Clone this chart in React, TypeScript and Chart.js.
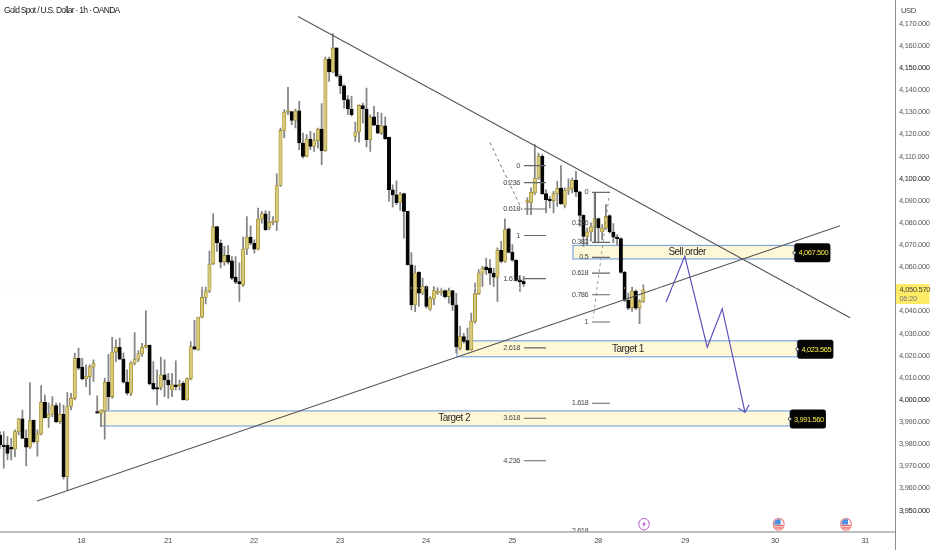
import React, { useEffect, useRef } from "react";
import { Chart, registerables } from "chart.js";

Chart.register(...registerables);

const opens = [3984.1,3979.6,3979.6,3978.6,3977.7,3985.7,3991.4,3982.6,3978.6,3990.9,
3981.1,3984.6,3998.9,3992.1,3993.5,3997.4,3990.2,3993.5,3965.3,3997,
4000.7,4018.8,4014.8,4009.5,4010.5,4014.8,3994.7,3994,3995,4008,
4001.5,4021.6,4023.7,4018.4,4008,4003,4016.6,4018.4,4020.8,4023.8,
4024.6,4007.5,4005.6,4005.6,4011.3,4009,4004.5,4006.8,4006.3,4007.5,
4000,4009.6,4024.1,4022.6,4037.4,4046.3,4049.2,4061.5,4078.3,4070.9,
4062.3,4065.3,4062.9,4055.5,4053.5,4052,4068.2,4073.6,4070.8,4068.1,
4081.7,4084.1,4077.9,4080.2,4080.5,4096.9,4121.8,4130,4130.3,4126.3,
4130.7,4116.1,4110.1,4117.9,4114.6,4117.2,4122.4,4112.6,4154.1,4148.2,
4159.1,4146.3,4142,4135.7,4131.5,4119.1,4121.1,4133,4131.5,4117.6,
4127.9,4124.2,4120.6,4123.9,4118.7,4095,4092.7,4089.4,4093.2,4085.2,
4061,4042.9,4057.7,4048.2,4051.2,4041,4045.5,4048.5,4048.5,4049.4,
4046.7,4049.4,4042.9,4023.3,4028.6,4026.8,4022.6,4035.5,4048,4057.3,
4060.1,4059.6,4057.3,4055.5,4067.6,4062.6,4077.3,4066.7,4063.1,4054.3,
4053.6,4089.3,4089.3,4093.5,4100.3,4110.1,4093.2,4090.8,4090.1,4093.2,
4095.7,4088,4094.7,4095.4,4099.3,4094,4083.4,4073.9,4075.9,4078.2,
4081.9,4075.9,4077.7,4083.3,4075.9,4073.6,4072.9,4057.6,4045,4041.5,
4049.1,4041.5,4044.5];

const highs = [3985.7,3985.7,3983.4,3982.6,3986.4,3991.7,3995.4,3986.4,4007.8,3990.9,
3986.4,4006.5,4002.2,3998.5,4001.5,3998.5,3998.5,3997.7,4003.3,4003,
4021.1,4023.4,4018.8,4015.8,4015.8,4018.1,4001.8,3995.5,4009.8,4020.6,
4028.3,4027.1,4027.9,4021.1,4013.6,4017.3,4030.4,4022.3,4025.6,4040.2,
4024.9,4017.3,4013.6,4019.3,4018.1,4012,4012,4017.6,4009,4008.3,
4009.8,4026.4,4035.9,4037.4,4051,4051,4067.4,4084.2,4078.3,4072.4,
4069.4,4069.8,4064.8,4064.8,4061.9,4073.6,4082.9,4078.7,4072.3,4086.7,
4085.2,4085.6,4085.2,4082.9,4102.2,4122.9,4131.2,4141.3,4130.4,4131.5,
4134.9,4120.6,4119.9,4121.4,4120.6,4122.9,4133.9,4155,4155,4165.6,
4159.1,4147,4142.5,4137.5,4137.2,4125.6,4133.4,4134.2,4141,4128.9,
4132.7,4130,4129.7,4127.9,4118.8,4097.2,4099,4093.8,4093.5,4085.2,
4066.6,4060.6,4058,4055,4051.5,4046.7,4051.2,4050.8,4050.5,4049.7,
4050.5,4049.4,4048.2,4033.4,4030.1,4032.4,4039.2,4052.8,4058.9,4060.4,
4064.1,4063.4,4059.6,4068.7,4071.7,4081.8,4077.7,4070.2,4063.4,4056.3,
4055.8,4091.3,4095.8,4115.4,4111.6,4110.9,4095,4092,4094.3,4098.8,
4105.9,4095.8,4099.9,4100.3,4103.3,4094.3,4083.7,4077.7,4080,4093.5,
4082.2,4079.2,4088.3,4083.7,4079.7,4074.7,4073.2,4058.1,4048.3,4051,
4049.8,4045.3,4052];

const lows = [3978.1,3969.1,3972.8,3972.8,3974.3,3984.1,3982.6,3970.1,3978.1,3980.4,
3974.6,3984.1,3991.7,3987.5,3992.4,3989.7,3989.4,3964.1,3958.9,3995.5,
4000,4013.6,4009,4006,4002.2,4008.3,3994,3987.9,3982.2,3995.5,
4000.7,4017.3,4018.1,4007.5,4002.2,4001.9,4015.8,4017.3,4019.6,4023.4,
4006.8,4004.5,3997.7,4004.5,4001.5,4000.7,4001.5,4004.5,4004.5,4000,
3999.7,4009,4022.6,4022.3,4037,4043.4,4048.5,4061.1,4067.1,4059.7,
4060.8,4061.5,4054.3,4052.5,4044.5,4051.3,4065.6,4070.1,4066.3,4067.8,
4079.9,4076.6,4076.9,4079.1,4076.6,4096.5,4118.4,4128.9,4124.4,4122.9,
4113.1,4109.3,4109.8,4113.1,4112.3,4113.8,4106.3,4112.3,4144,4147.8,
4146,4138.4,4131.9,4128.9,4128.2,4116.8,4116.4,4125.1,4114.3,4112.3,
4123.9,4120.3,4119.9,4117.6,4089.7,4087.1,4088.2,4085.6,4073.1,4061,
4040.7,4039.9,4042.2,4047.5,4041.4,4040.4,4042.9,4047.5,4047.2,4046,
4043.7,4040.4,4021.1,4022.6,4025.6,4022.3,4022.4,4034.7,4047.5,4051.3,
4056.6,4052.1,4051.3,4044.5,4061.9,4062.2,4066.4,4062.6,4053.6,4049,
4051.3,4083.7,4083.7,4092.8,4099.6,4092.8,4084.5,4086.8,4084.5,4087.5,
4088.3,4086.8,4092.8,4093.5,4092,4078.5,4069.4,4070.2,4071.7,4070.9,
4070.9,4072.4,4077,4075.4,4070.9,4070.2,4057.3,4044.5,4040.8,4040,
4040.8,4034.4,4044];

const closes = [3979.6,3978.9,3975.8,3977.7,3985.7,3991.4,3982.6,3978.6,3990.6,3981.1,
3984.6,3998.9,3992,3993.5,3997.4,3990.2,3993.5,3965.3,3997,4000.7,
4018.8,4014.3,4009.5,4010.5,4015,4016.6,3994,3995.5,4008,4001.5,
4021.6,4023.7,4018.4,4008,4003,4016.6,4018.4,4020.8,4023.8,4024.6,
4007.2,4005.1,4004.8,4011.3,4009,4006.8,4006.8,4006,4006.8,4000,
4009.6,4024.1,4022.9,4037.4,4046.3,4049.2,4061.4,4078.3,4071,4062.3,
4065.3,4062.3,4055,4053.2,4052.5,4068.2,4073.6,4070.8,4068.1,4081.7,
4084.1,4076.9,4080.3,4080.6,4096.9,4121.8,4130.1,4130.3,4126.3,4130.7,
4116.1,4110.1,4117.9,4114.6,4117.2,4122.4,4112.6,4154.1,4148.2,4159.1,
4146.3,4142,4135.7,4131.5,4128.9,4121.1,4133.1,4131.5,4117.6,4127.9,
4124.2,4120.6,4123.9,4118.1,4095,4092.7,4089.2,4093,4085.2,4061,
4042.9,4057.3,4048.2,4051.2,4042.2,4046,4049.4,4049,4049,4046.7,
4049.4,4042.9,4024.1,4028.6,4026.4,4022.6,4035.5,4048,4057.3,4059.6,
4058.9,4057.3,4055.5,4067.6,4062.6,4077,4066.7,4063.1,4054,4053.4,
4052.4,4090.1,4093.8,4100.3,4110.1,4093.2,4090.5,4090.1,4093.2,4095.7,
4088.7,4094.7,4095.8,4099.3,4094,4083.4,4073.9,4075.9,4078.2,4081.9,
4077.7,4077.7,4083,4075.9,4073.6,4072.9,4057.6,4045,4041.5,4049.1,
4041.5,4044.5,4049.8];

const dayLabels = ["18", "21", "22", "23", "24", "25", "28", "29", "30", "31"];
const dayIndex = [21.7, 44.9, 67.9, 90.9, 113.9, 136.9, 159.9, 183.2, 207.2, 231.3];
const priceTicks = [4170,4160,4150,4140,4130,4120,4110,4100,4090,4080,4070,4060,4040,4030,4020,4010,4000,3990,3980,3970,3960,3950];

const X_MAX = 239.3;
const Y_MIN = 3940.27;
const Y_MAX = 4176.92;
const lastPrice = 4050.57;
const countdown = "06:20";

const trendDown = [{ x: 79.7, y: 4173.3 }, { x: 227.3, y: 4037.1 }];
const trendUp = [{ x: 9.9, y: 3954.3 }, { x: 224.6, y: 4078.7 }];
const forecastPath = [
  { x: 178.1, y: 4044.2 }, { x: 183.1, y: 4065 }, { x: 189.1, y: 4023.8 },
  { x: 193.1, y: 4041.2 }, { x: 199.2, y: 3994.4 },
];
const forecastHead = [{ x: 197.4, y: 3996.2 }, { x: 199.2, y: 3994.4 }, { x: 200.3, y: 3997.8 }];
const fibDash1 = [{ x: 131, y: 4116.3 }, { x: 139.8, y: 4085.1 }];
const fibDash2 = [{ x: 162.8, y: 4091.4 }, { x: 158.6, y: 4037.1 }];
const fibStem2 = [{ x: 159.2, y: 4093.8 }, { x: 159.2, y: 4071.2 }];

const fib1Labels = ["0", "0.236", "0.618", "1", "1.618", "2.618", "3.618", "4.236"];
const fib1Prices = [4105.9, 4098.2, 4086.3, 4074.3, 4054.8, 4023.5, 3991.7, 3972.5];
const fib2Labels = ["0", "0.236", "0.382", "0.5", "0.618", "0.786", "1", "1.618", "2.618"];
const fib2Prices = [4093.8, 4079.9, 4071.2, 4064.4, 4057.3, 4047.5, 4035.2, 3998.5, 3940.7];
const fib1Span = [140.1, 146];
const fib2Span = [158.3, 163.1];
const fib1TextX = 139;
const fib2TextX = 157.3;

const zoneNames = ["Sell order", "Target 1", "Target 2"];
const zoneTops = [4069.8, 4026.7, 3995];
const zoneBottoms = [4063.7, 4019.5, 3988.2];
const zoneStarts = [153.2, 122.2, 27];
const zoneEnds = [212.4, 213.2, 211.2];
const zoneTextX = [183.7, 167.9, 121.4];
const tagTexts = ["4,067.500", "4,023.565", "3,991.560"];
const eventIndex = [172.2, 208.2, 226.2];
const eventKinds = ["bolt", "us", "us"];
const eventPrice = 3944;

const FONT = '"Liberation Sans", sans-serif';
const idx = opens.map((_, i) => i);
const isUp = (i: number) => closes[i] >= opens[i];

function segments(prices: number[], span: number[], skip: number[]) {
  const out: ({ x: number; y: number | null })[] = [];
  prices.forEach((p, i) => {
    if (skip.includes(i)) return;
    out.push({ x: span[0], y: p }, { x: span[1], y: p }, { x: span[1], y: null });
  });
  return out;
}

const lineSet = (data: any[], color: string, width: number, dash: number[] = []) => ({
  type: "line" as const,
  data,
  borderColor: color,
  borderWidth: width,
  borderDash: dash,
  pointRadius: 0,
  fill: false,
  tension: 0,
  spanGaps: false,
  order: 1,
});

const overlay = {
  id: "overlay",
  beforeDraw(chart: any) {
    chart.ctx.letterSpacing = "-0.3px";
  },
  beforeDatasetsDraw(chart: any) {
    const { ctx, scales } = chart;
    const { x, y } = scales;
    ctx.save();
    zoneNames.forEach((_, i) => {
      const l = x.getPixelForValue(zoneStarts[i]);
      const r = x.getPixelForValue(zoneEnds[i]);
      const t = y.getPixelForValue(zoneTops[i]);
      const b = y.getPixelForValue(zoneBottoms[i]);
      ctx.fillStyle = "#fff8d6";
      ctx.fillRect(l, t, r - l, b - t);
      ctx.strokeStyle = "#7fa4e0";
      ctx.lineWidth = 1.2;
      ctx.strokeRect(l, t, r - l, b - t);
    });
    ctx.restore();
  },
  afterDatasetsDraw(chart: any) {
    const { ctx, scales, chartArea } = chart;
    const { x, y } = scales;
    ctx.save();
    ctx.beginPath();
    ctx.rect(0, 0, chartArea.right, chartArea.bottom);
    ctx.clip();
    ctx.textBaseline = "middle";
    ctx.fillStyle = "#4a4a4a";
    ctx.font = `7.5px ${FONT}`;
    ctx.letterSpacing = "-0.45px";
    ctx.textAlign = "right";
    fib1Labels.forEach((t, i) => ctx.fillText(t, x.getPixelForValue(fib1TextX), y.getPixelForValue(fib1Prices[i])));
    fib2Labels.forEach((t, i) => ctx.fillText(t, x.getPixelForValue(fib2TextX), y.getPixelForValue(fib2Prices[i])));
    ctx.textAlign = "center";
    ctx.fillStyle = "#2a2a2a";
    ctx.font = `10px ${FONT}`;
    ctx.letterSpacing = "-0.55px";
    zoneNames.forEach((t, i) => {
      ctx.fillText(t, x.getPixelForValue(zoneTextX[i]), (y.getPixelForValue(zoneTops[i]) + y.getPixelForValue(zoneBottoms[i])) / 2);
    });
    // events
    eventIndex.forEach((v, i) => {
      const cx = x.getPixelForValue(v);
      const cy = y.getPixelForValue(eventPrice) + 0.5;
      if (eventKinds[i] === "bolt") {
        ctx.beginPath();
        ctx.ellipse(cx, cy, 5.2, 5.8, 0, 0, Math.PI * 2);
        ctx.fillStyle = "#ffffff";
        ctx.fill();
        ctx.strokeStyle = "#b45ad2";
        ctx.lineWidth = 1;
        ctx.stroke();
        ctx.fillStyle = "#a63fc8";
        ctx.beginPath();
        ctx.moveTo(cx + 1.2, cy - 3.4);
        ctx.lineTo(cx - 1.8, cy + 0.5);
        ctx.lineTo(cx - 0.2, cy + 0.5);
        ctx.lineTo(cx - 1.2, cy + 3.4);
        ctx.lineTo(cx + 1.8, cy - 0.8);
        ctx.lineTo(cx + 0.2, cy - 0.8);
        ctx.closePath();
        ctx.fill();
      } else {
        ctx.beginPath();
        ctx.ellipse(cx, cy, 5.4, 6, 0, 0, Math.PI * 2);
        ctx.fillStyle = "#ffffff";
        ctx.fill();
        ctx.strokeStyle = "#ef8a8a";
        ctx.lineWidth = 1.2;
        ctx.stroke();
        ctx.save();
        ctx.beginPath();
        ctx.ellipse(cx, cy, 4.6, 5.2, 0, 0, Math.PI * 2);
        ctx.clip();
        ctx.fillStyle = "#e85a5a";
        ctx.fillRect(cx - 5, cy + 0.6, 10, 1.4);
        ctx.fillRect(cx - 5, cy + 3, 10, 1.4);
        ctx.fillStyle = "#4a8fe0";
        ctx.fillRect(cx - 5, cy - 5.5, 7, 5.7);
        ctx.restore();
      }
    });
    // price tags
    tagTexts.forEach((t, i) => {
      const l = x.getPixelForValue(zoneEnds[i]);
      const cy = (y.getPixelForValue(zoneTops[i]) + y.getPixelForValue(zoneBottoms[i])) / 2 + 0.5;
      ctx.fillStyle = "#060606";
      ctx.beginPath();
      ctx.roundRect(l, cy - 9.5, 36, 19, 2.5);
      ctx.fill();
      ctx.beginPath();
      ctx.arc(l, cy, 1.5, 0, Math.PI * 2);
      ctx.fillStyle = "#ffffff";
      ctx.fill();
      ctx.strokeStyle = "#222222";
      ctx.lineWidth = 0.8;
      ctx.stroke();
      ctx.fillStyle = "#f6ec4a";
      ctx.font = `7.5px ${FONT}`;
      ctx.letterSpacing = "-0.4px";
      ctx.textAlign = "center";
      ctx.fillText(t, l + 19, cy + 0.5);
    });
    ctx.restore();

    // right and bottom frame
    ctx.save();
    ctx.strokeStyle = "#8c8c8c";
    ctx.lineWidth = 1;
    ctx.beginPath();
    ctx.moveTo(chartArea.right + 0.5, 0);
    ctx.lineTo(chartArea.right + 0.5, 550);
    ctx.stroke();
    ctx.strokeStyle = "#a8a8a8";
    ctx.lineWidth = 1.5;
    ctx.beginPath();
    ctx.moveTo(0, chartArea.bottom);
    ctx.lineTo(chartArea.right, chartArea.bottom);
    ctx.stroke();

    // header, currency and last price
    ctx.textBaseline = "middle";
    ctx.textAlign = "left";
    ctx.fillStyle = "#222222";
    ctx.font = `8.5px ${FONT}`;
    ctx.letterSpacing = "-0.7px";
    ctx.fillText("Gold Spot / U.S. Dollar · 1h · OANDA", 4, 11);
    ctx.fillStyle = "#444444";
    ctx.font = `7.5px ${FONT}`;
    ctx.letterSpacing = "-0.3px";
    ctx.fillText("USD", 901, 11);
    ctx.fillStyle = "#ffeb66";
    ctx.fillRect(chartArea.right + 1, 284, 33.5, 20);
    ctx.fillStyle = "#444444";
    ctx.fillText(lastPrice.toLocaleString("en-US", { minimumFractionDigits: 3 }), 899.5, 289.5);
    ctx.fillStyle = "#777777";
    ctx.fillText(countdown, 899.5, 298.5);
    ctx.restore();
  },
};

export default function App() {
  const ref = useRef<HTMLCanvasElement>(null);
  useEffect(() => {
    if (!ref.current) return;
    const chart = new Chart(ref.current, {
      type: "bar",
      data: {
        datasets: [
          lineSet([{ x: 0, y: lastPrice }, { x: X_MAX, y: lastPrice }], "#fbf3c4", 1, [1, 2]),
          lineSet(trendDown, "#555555", 1.1),
          lineSet(trendUp, "#555555", 1.1),
          lineSet(forecastPath, "#5b50ba", 1.2),
          lineSet(forecastHead, "#5b50ba", 1.2),
          lineSet(fibDash1, "#666666", 0.9, [3, 3]),
          lineSet(fibDash2, "#8a8a8a", 0.9, [3, 3]),
          lineSet(fibStem2, "#666666", 1),
          lineSet(segments(fib1Prices, fib1Span, []), "#666666", 1.1),
          lineSet(segments(fib2Prices, fib2Span, [1, 8]), "#666666", 1.1),
          {
            type: "bar" as const,
            data: idx.map((i) => ({ x: i, y: [lows[i], highs[i]] })),
            backgroundColor: "#858585",
            barThickness: 1.1,
            grouped: false,
            order: 5,
          },
          {
            type: "bar" as const,
            data: idx.map((i) => ({ x: i, y: [Math.min(opens[i], closes[i]), Math.max(opens[i], closes[i])] })),
            backgroundColor: idx.map((i) => (isUp(i) ? "#d8ca7c" : "#050505")),
            borderColor: idx.map((i) => (isUp(i) ? "#a28d25" : "#050505")),
            borderWidth: 0.8,
            borderSkipped: false,
            barThickness: 3.4,
            minBarLength: 1.5,
            grouped: false,
            order: 4,
          },
        ] as any,
      },
      options: {
        animation: false,
        responsive: false,
        devicePixelRatio: 1,
        layout: { padding: 0 },
        plugins: { legend: { display: false }, title: { display: false }, tooltip: { enabled: false } },
        scales: {
          x: {
            type: "linear",
            min: 0,
            max: X_MAX,
            offset: false,
            grid: { display: false, drawTicks: false },
            border: { display: false },
            afterFit: (s: any) => { s.height = 18; },
            afterBuildTicks: (s: any) => { s.ticks = dayIndex.map((value) => ({ value })); },
            ticks: {
              autoSkip: false,
              maxRotation: 0,
              padding: 4,
              color: "#4a4a4a",
              font: { family: FONT, size: 7.5 },
              callback: (v: any) => dayLabels[dayIndex.indexOf(Number(v))] ?? "",
            },
          },
          y: {
            type: "linear",
            position: "right",
            min: Y_MIN,
            max: Y_MAX,
            grid: { display: false, drawTicks: false },
            border: { display: false },
            afterFit: (s: any) => { s.width = 37; },
            afterBuildTicks: (s: any) => { s.ticks = priceTicks.map((value) => ({ value })); },
            ticks: {
              autoSkip: false,
              padding: 4,
              color: (c: any) => (c.tick.value % 50 === 0 ? "#222222" : "#5a5a5a"),
              font: { family: FONT, size: 7.5 },
              callback: (v: any) => Number(v).toLocaleString("en-US", { minimumFractionDigits: 3 }),
            },
          },
        },
      } as any,
      plugins: [overlay],
    });
    return () => chart.destroy();
  }, []);
  return (
    <div style={{ position: "fixed", left: 0, top: 0, width: 932, height: 550, background: "#fff" }}>
      <canvas ref={ref} width={932} height={550} style={{ display: "block" }} />
    </div>
  );
}
